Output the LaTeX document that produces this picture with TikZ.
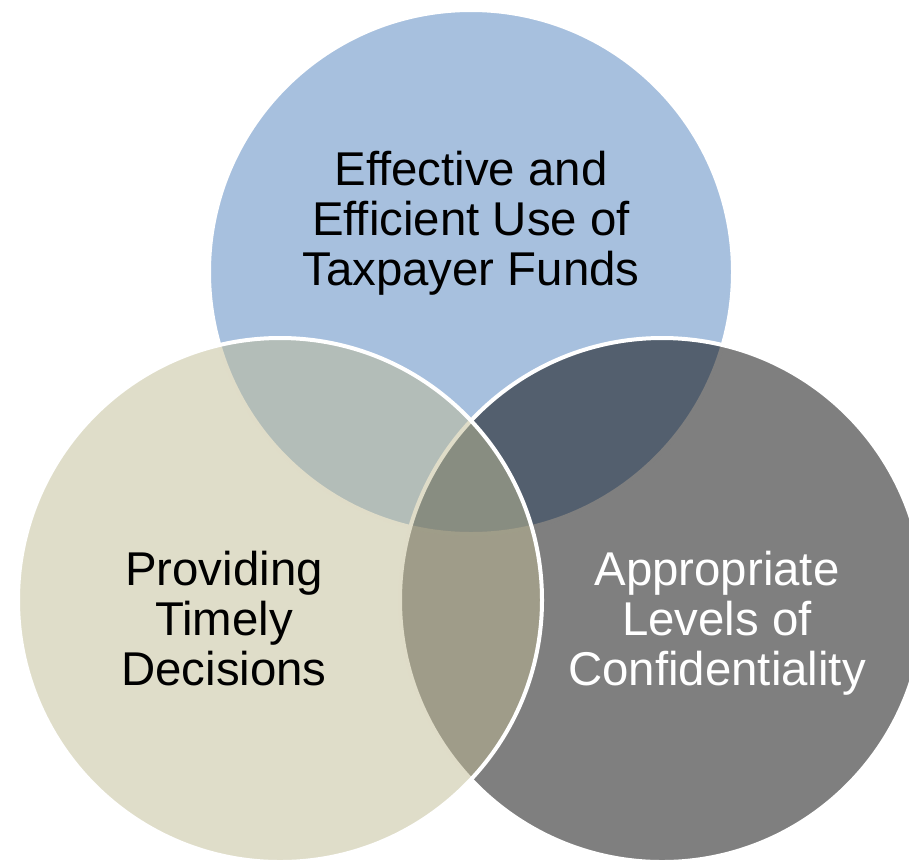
\documentclass[tikz,border=0pt]{standalone}
\usepackage{fontspec}
\setmainfont{Liberation Sans}
\definecolor{cblue}{RGB}{79,129,189}
\definecolor{ctan}{RGB}{192,187,147}
\definecolor{cdark}{RGB}{0,0,0}
\begin{document}
\begin{tikzpicture}[x=0.5pt,y=-0.5pt,
  venn/.style={circle, inner sep=0pt, minimum size=262pt, draw=white, line width=2pt, fill opacity=0.5, draw opacity=1},
  lbl/.style={anchor=base, inner sep=0pt, font=\fontsize{23.7}{25}\selectfont}]
\useasboundingbox (0,0) rectangle (909,863);
\clip (0,0) rectangle (909,863);
\node[venn, fill=cblue] (top) at (471,272) {};
\node[venn, fill=cdark] (right) at (662,600) {};
\node[venn, fill=ctan] (left) at (280,600) {};
% top circle text
\node[lbl] (t1) at (471,185) {Effective and};
\node[lbl] (t2) at (471,235) {Efficient Use of};
\node[lbl] (t3) at (471,285) {Taxpayer Funds};
% left circle text
\node[lbl] (l1) at (224,585) {Providing};
\node[lbl] (l2) at (224,635) {Timely};
\node[lbl] (l3) at (224,685) {Decisions};
% right circle text
\node[lbl, text=white] (r1) at (717,585) {Appropriate};
\node[lbl, text=white] (r2) at (717,635) {Levels of};
\node[lbl, text=white] (r3) at (717,685) {Confidentiality};
\end{tikzpicture}
\end{document}
